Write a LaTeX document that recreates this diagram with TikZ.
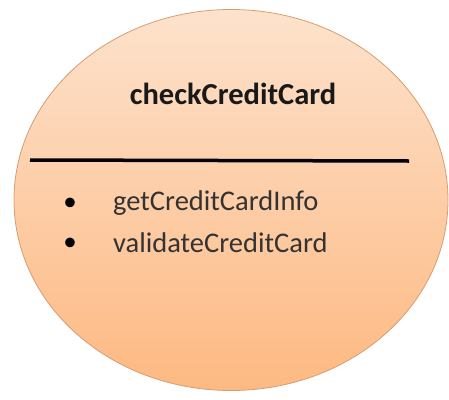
\documentclass[tikz,border=0pt]{standalone}
\usepackage{fontspec}
\setmainfont{Carlito}
\usetikzlibrary{shapes.geometric, positioning}
\definecolor{pescaChiaro}{HTML}{FDE2CC}
\definecolor{pescaMedio}{HTML}{FDD0AC}
\definecolor{pescaScuro}{HTML}{FDB982}
\definecolor{bordoCaso}{HTML}{D99C70}

\begin{document}
\begin{tikzpicture}[
  x=1pt, y=-1pt,
  casouso/.style={ellipse, draw=bordoCaso, line width=0.8pt,
    top color=pescaChiaro, middle color=pescaMedio, bottom color=pescaScuro,
    minimum width=434pt, minimum height=381pt, inner sep=0pt},
  titolo/.style={font=\fontsize{30.5}{34}\selectfont\bfseries, text=black!90},
  punto/.style={anchor=center, inner sep=0pt, font=\fontsize{27}{30}\selectfont},
  voce/.style={anchor=west, inner sep=0pt, font=\fontsize{28.5}{32}\selectfont, text=black!80},
  separatore/.style={draw=black, line width=3.5pt}
]
\useasboundingbox (0,0) rectangle (449,399);

% ---- caso d'uso ------------------------------------------------------
\node[casouso] (caso) at (231,200) {};
\node[titolo] (nome) at (233,94) {checkCreditCard};

% ---- linea di separazione --------------------------------------------
\coordinate (sepSx) at (30,160);
\coordinate (sepDx) at (409,161);
\draw[separatore] (sepSx) -- (sepDx);

% ---- operazioni ------------------------------------------------------
\node[punto] (p1) at (70,204) {\textbullet};
\node[voce] (op1) at (113,203) {getCreditCardInfo};
\node[punto] (p2) at (70,244) {\textbullet};
\node[voce] (op2) at (113,243) {validateCreditCard};

\end{tikzpicture}
\end{document}
